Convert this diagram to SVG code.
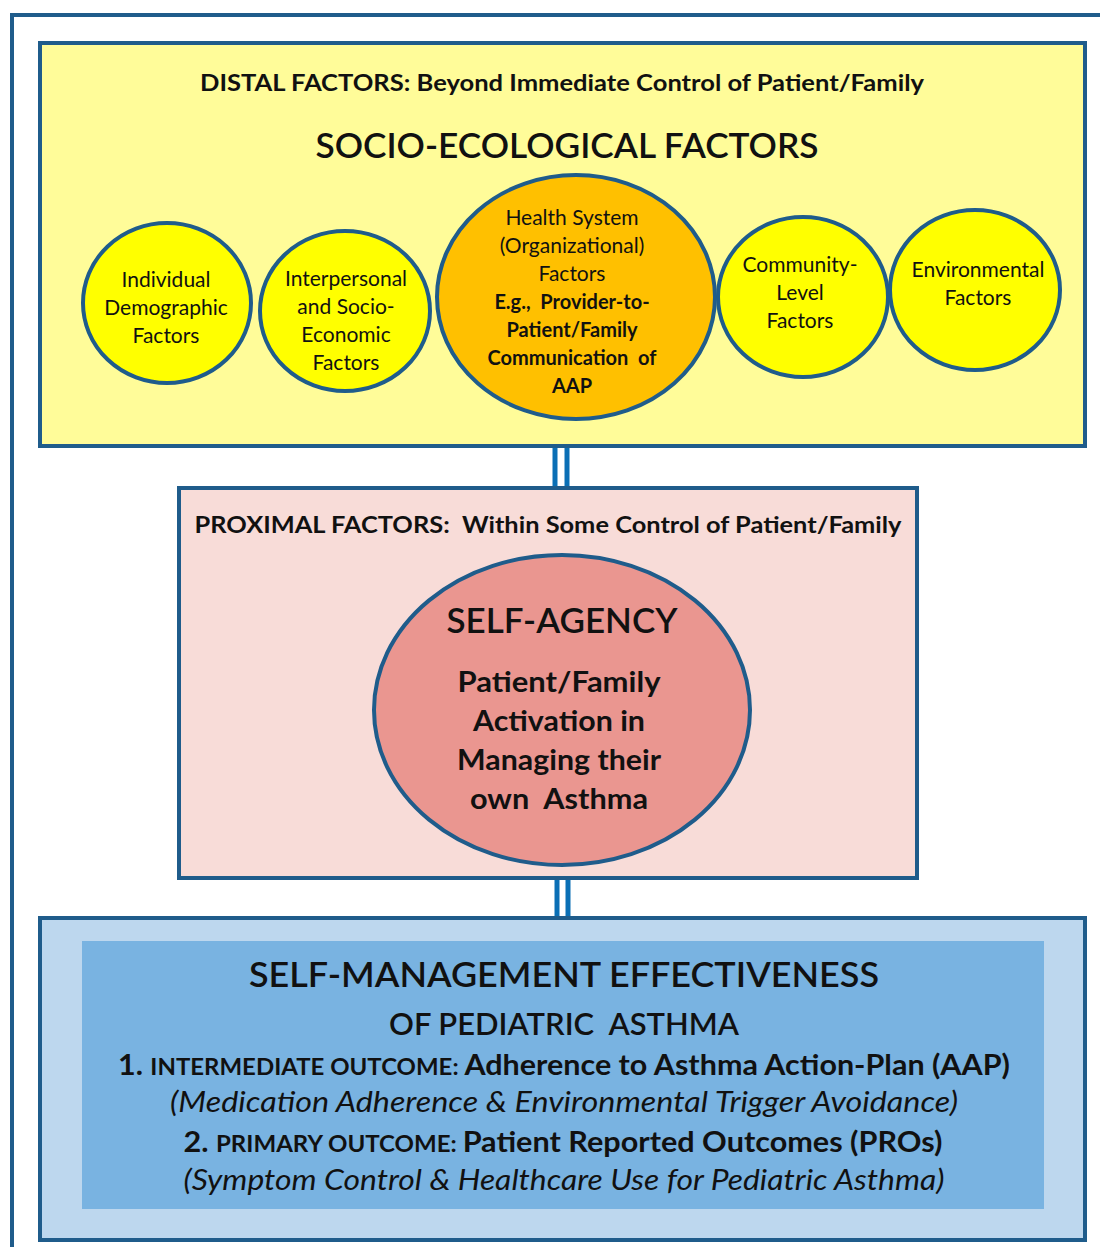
<svg xmlns="http://www.w3.org/2000/svg" width="1100" height="1247" viewBox="0 0 1100 1247" xml:space="preserve">
  <style>
    text { font-family: Lato, "Open Sans", "Liberation Sans", sans-serif; fill: #111; text-anchor: middle; white-space: pre; }
    .frame { fill: none; stroke: #1F5C8B; stroke-width: 4; }
    .box { stroke: #1F5C8B; stroke-width: 4; }
    .bub { fill: #FFFF00; stroke: #1F5C8B; stroke-width: 4; }
    .c { font-size: 21px; }
    .cb { font-size: 20px; font-weight: bold; }
    .h22 { font-size: 22px; font-weight: bold; }
    .big { font-size: 34px; font-weight: 600; }
    .mid { font-size: 28px; font-weight: bold; }
    .it { font-size: 28px; font-style: italic; }
    .link { stroke: #0A6FB5; stroke-width: 5; }
  </style>
  <!-- outer frame -->
  <path class="frame" d="M12 1247 V15 H1100"/>
  <!-- links between tiers -->
  <g id="connectors">
    <line class="link" x1="555" y1="446" x2="555" y2="488"/>
    <line class="link" x1="567" y1="446" x2="567" y2="488"/>
    <line class="link" x1="557" y1="878" x2="557" y2="918"/>
    <line class="link" x1="568" y1="878" x2="568" y2="918"/>
  </g>
  <!-- distal tier -->
  <g id="distal">
    <rect class="box" x="40" y="43" width="1045" height="403" fill="#FFFC99"/>
    <text class="h22" x="562" y="91" textLength="724" lengthAdjust="spacingAndGlyphs">DISTAL FACTORS: Beyond Immediate Control of Patient/Family</text>
    <text class="big" x="567" y="158" textLength="503" lengthAdjust="spacingAndGlyphs">SOCIO-ECOLOGICAL FACTORS</text>
  </g>
  <g id="individual">
    <ellipse class="bub" cx="167" cy="303" rx="84" ry="80"/>
    <text class="c" x="166" y="287">Individual</text>
    <text class="c" x="166" y="315">Demographic</text>
    <text class="c" x="166" y="343">Factors</text>
  </g>
  <g id="interpersonal">
    <ellipse class="bub" cx="345" cy="311" rx="85" ry="80"/>
    <text class="c" x="346" y="286">Interpersonal</text>
    <text class="c" x="346" y="314">and Socio-</text>
    <text class="c" x="346" y="342">Economic</text>
    <text class="c" x="346" y="370">Factors</text>
  </g>
  <g id="health-system">
    <ellipse cx="576" cy="297" rx="139" ry="122" fill="#FFC000" stroke="#1F5C8B" stroke-width="4"/>
    <text class="c" x="572" y="225">Health System</text>
    <text class="c" x="572" y="253">(Organizational)</text>
    <text class="c" x="572" y="281">Factors</text>
    <text class="cb" x="572" y="309">E.g.,  Provider-to-</text>
    <text class="cb" x="572" y="337">Patient/Family</text>
    <text class="cb" x="572" y="365">Communication  of</text>
    <text class="cb" x="572" y="393">AAP</text>
  </g>
  <g id="community">
    <ellipse class="bub" cx="803" cy="297" rx="85" ry="80"/>
    <text class="c" x="800" y="272">Community-</text>
    <text class="c" x="800" y="300">Level</text>
    <text class="c" x="800" y="328">Factors</text>
  </g>
  <g id="environmental">
    <ellipse class="bub" cx="975" cy="290" rx="85" ry="80"/>
    <text class="c" x="978" y="277">Environmental</text>
    <text class="c" x="978" y="305">Factors</text>
  </g>
  <!-- proximal tier -->
  <g id="proximal">
    <rect class="box" x="179" y="488" width="738" height="390" fill="#F8DCD8"/>
    <text class="h22" x="548" y="533" textLength="707" lengthAdjust="spacingAndGlyphs">PROXIMAL FACTORS:  Within Some Control of Patient/Family</text>
  </g>
  <g id="self-agency">
    <ellipse cx="562" cy="710" rx="188" ry="155" fill="#EA9690" stroke="#1F5C8B" stroke-width="4"/>
    <text class="big" x="562" y="633" textLength="231" lengthAdjust="spacingAndGlyphs">SELF-AGENCY</text>
    <text class="mid" x="559" y="692" textLength="203" lengthAdjust="spacingAndGlyphs">Patient/Family</text>
    <text class="mid" x="559" y="731" textLength="172" lengthAdjust="spacingAndGlyphs">Activation in</text>
    <text class="mid" x="559" y="770" textLength="204" lengthAdjust="spacingAndGlyphs">Managing their</text>
    <text class="mid" x="559" y="809" textLength="178" lengthAdjust="spacingAndGlyphs">own  Asthma</text>
  </g>
  <!-- outcomes tier -->
  <g id="outcomes">
    <rect class="box" x="40" y="918" width="1045" height="322" fill="#BDD7EE"/>
    <rect x="82" y="941" width="962" height="268" fill="#79B3E1"/>
    <text class="big" x="564" y="987" textLength="630" lengthAdjust="spacingAndGlyphs">SELF-MANAGEMENT EFFECTIVENESS</text>
    <text x="564" y="1035" font-size="30" font-weight="600" textLength="350" lengthAdjust="spacingAndGlyphs">OF PEDIATRIC  ASTHMA</text>
    <text x="564" y="1075" font-weight="bold" textLength="892" lengthAdjust="spacingAndGlyphs"><tspan font-size="28">1. </tspan><tspan font-size="22">INTERMEDIATE OUTCOME: </tspan><tspan font-size="28">Adherence to Asthma Action-Plan (AAP)</tspan></text>
    <text class="it" x="564" y="1112" textLength="788" lengthAdjust="spacingAndGlyphs">(Medication Adherence &amp; Environmental Trigger Avoidance)</text>
    <text x="563" y="1152" font-weight="bold" textLength="759" lengthAdjust="spacingAndGlyphs"><tspan font-size="28">2. </tspan><tspan font-size="22">PRIMARY OUTCOME: </tspan><tspan font-size="28">Patient Reported Outcomes (PROs)</tspan></text>
    <text class="it" x="564" y="1190" textLength="761" lengthAdjust="spacingAndGlyphs">(Symptom Control &amp; Healthcare Use for Pediatric Asthma)</text>
  </g>
</svg>
